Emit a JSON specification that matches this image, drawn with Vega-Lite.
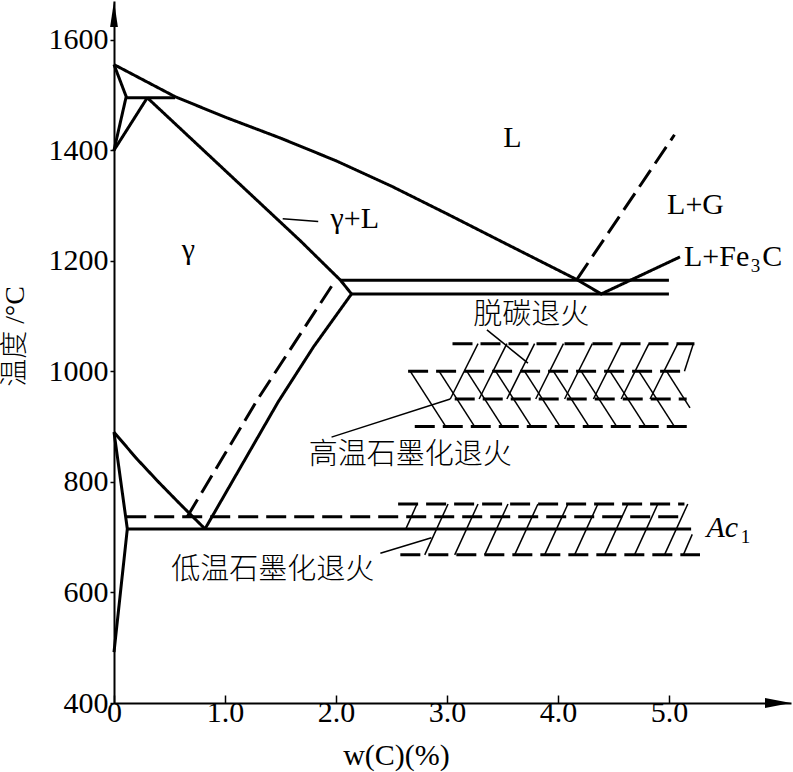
{
  "$schema": "https://vega.github.io/schema/vega-lite/v6.json",
  "width": 677,
  "height": 702,
  "autosize": {"type": "none"},
  "padding": {"left": 114, "top": 1, "right": 2, "bottom": 69},
  "background": "white",
  "config": {"view": {"stroke": null}},
  "datasets": {
    "lines": [
      {"id": "liq", "o": 1, "x": 0, "y": 1555, "d": "s"},
      {"id": "liq", "o": 2, "x": 0.55, "y": 1497, "d": "s"},
      {"id": "liq", "o": 3, "x": 1.0, "y": 1460, "d": "s"},
      {"id": "liq", "o": 4, "x": 1.5, "y": 1422, "d": "s"},
      {"id": "liq", "o": 5, "x": 2.0, "y": 1381, "d": "s"},
      {"id": "liq", "o": 6, "x": 2.5, "y": 1335, "d": "s"},
      {"id": "liq", "o": 7, "x": 3.0, "y": 1285, "d": "s"},
      {"id": "liq", "o": 8, "x": 3.5, "y": 1234, "d": "s"},
      {"id": "liq", "o": 9, "x": 4.17, "y": 1166, "d": "s"},
      {"id": "liq", "o": 10, "x": 4.39, "y": 1140, "d": "s"},
      {"id": "liq", "o": 11, "x": 5.10, "y": 1207, "d": "s"},
      {"id": "AH", "o": 1, "x": 0, "y": 1555, "d": "s"},
      {"id": "AH", "o": 2, "x": 0.11, "y": 1497, "d": "s"},
      {"id": "AH", "o": 3, "x": 0, "y": 1400, "d": "s"},
      {"id": "JN", "o": 1, "x": 0.30, "y": 1495, "d": "s"},
      {"id": "JN", "o": 2, "x": 0, "y": 1400, "d": "s"},
      {"id": "peri", "o": 1, "x": 0.11, "y": 1495, "d": "s"},
      {"id": "peri", "o": 2, "x": 0.55, "y": 1495, "d": "s"},
      {"id": "sol", "o": 1, "x": 0.30, "y": 1495, "d": "s"},
      {"id": "sol", "o": 2, "x": 1.68, "y": 1236, "d": "s"},
      {"id": "sol", "o": 3, "x": 2.04, "y": 1165, "d": "s"},
      {"id": "sol", "o": 4, "x": 2.14, "y": 1140, "d": "s"},
      {"id": "sol", "o": 5, "x": 1.80, "y": 1045, "d": "s"},
      {"id": "sol", "o": 6, "x": 1.48, "y": 945, "d": "s"},
      {"id": "sol", "o": 7, "x": 1.15, "y": 830, "d": "s"},
      {"id": "sol", "o": 8, "x": 0.82, "y": 715, "d": "s"},
      {"id": "eut1", "o": 1, "x": 2.04, "y": 1165, "d": "s"},
      {"id": "eut1", "o": 2, "x": 5.0, "y": 1165, "d": "s"},
      {"id": "eut2", "o": 1, "x": 2.14, "y": 1140, "d": "s"},
      {"id": "eut2", "o": 2, "x": 5.0, "y": 1140, "d": "s"},
      {"id": "GS", "o": 1, "x": 0, "y": 890, "d": "s"},
      {"id": "GS", "o": 2, "x": 0.2, "y": 843, "d": "s"},
      {"id": "GS", "o": 3, "x": 0.4, "y": 800, "d": "s"},
      {"id": "GS", "o": 4, "x": 0.6, "y": 759, "d": "s"},
      {"id": "GS", "o": 5, "x": 0.82, "y": 715, "d": "s"},
      {"id": "GP", "o": 1, "x": 0, "y": 890, "d": "s"},
      {"id": "GP", "o": 2, "x": 0.12, "y": 715, "d": "s"},
      {"id": "GP", "o": 3, "x": 0, "y": 492, "d": "s"},
      {"id": "A1", "o": 1, "x": 0.12, "y": 715, "d": "s"},
      {"id": "A1", "o": 2, "x": 5.2, "y": 715, "d": "s"},
      {"id": "Acm", "o": 1, "x": 0.66, "y": 737, "d": "d"},
      {"id": "Acm", "o": 2, "x": 1.29, "y": 948, "d": "d"},
      {"id": "Acm", "o": 3, "x": 1.98, "y": 1160, "d": "d"},
      {"id": "liqG", "o": 1, "x": 4.17, "y": 1166, "d": "d"},
      {"id": "liqG", "o": 2, "x": 5.05, "y": 1428, "d": "d"},
      {"id": "A1g", "o": 1, "x": 0.11, "y": 737, "d": "d"},
      {"id": "A1g", "o": 2, "x": 5.15, "y": 737, "d": "d"},
      {"id": "b1050", "o": 1, "x": 3.05, "y": 1050, "d": "d"},
      {"id": "b1050", "o": 2, "x": 5.23, "y": 1050, "d": "d"},
      {"id": "b1000", "o": 1, "x": 2.65, "y": 1000, "d": "d"},
      {"id": "b1000", "o": 2, "x": 5.16, "y": 1000, "d": "d"},
      {"id": "b950", "o": 1, "x": 3.07, "y": 950, "d": "d"},
      {"id": "b950", "o": 2, "x": 5.16, "y": 950, "d": "d"},
      {"id": "b900", "o": 1, "x": 2.71, "y": 900, "d": "d"},
      {"id": "b900", "o": 2, "x": 5.19, "y": 900, "d": "d"},
      {"id": "b760", "o": 1, "x": 2.56, "y": 760, "d": "d"},
      {"id": "b760", "o": 2, "x": 5.14, "y": 760, "d": "d"},
      {"id": "b668", "o": 1, "x": 2.58, "y": 668, "d": "d"},
      {"id": "b668", "o": 2, "x": 5.28, "y": 668, "d": "d"}
    ],
    "segs": [
      {"x": 1.52, "y": 1276, "x2": 1.84, "y2": 1271},
      {"x": 3.36, "y": 1075, "x2": 3.73, "y2": 1015},
      {"x": 1.96, "y": 881, "x2": 3.03, "y2": 950},
      {"x": 2.40, "y": 671, "x2": 2.86, "y2": 699},
      {"x": 3.03, "y": 950, "x2": 3.28, "y2": 1050},
      {"x": 3.29, "y": 950, "x2": 3.54, "y2": 1050},
      {"x": 3.54, "y": 950, "x2": 3.79, "y2": 1050},
      {"x": 3.80, "y": 950, "x2": 4.05, "y2": 1050},
      {"x": 4.06, "y": 950, "x2": 4.31, "y2": 1050},
      {"x": 4.32, "y": 950, "x2": 4.57, "y2": 1050},
      {"x": 4.57, "y": 950, "x2": 4.82, "y2": 1050},
      {"x": 4.83, "y": 950, "x2": 5.08, "y2": 1050},
      {"x": 5.14, "y": 1000, "x2": 5.22, "y2": 1050},
      {"x": 2.67, "y": 1000, "x2": 2.99, "y2": 900},
      {"x": 2.93, "y": 1000, "x2": 3.25, "y2": 900},
      {"x": 3.18, "y": 1000, "x2": 3.50, "y2": 900},
      {"x": 3.44, "y": 1000, "x2": 3.76, "y2": 900},
      {"x": 3.70, "y": 1000, "x2": 4.02, "y2": 900},
      {"x": 3.96, "y": 1000, "x2": 4.28, "y2": 900},
      {"x": 4.21, "y": 1000, "x2": 4.53, "y2": 900},
      {"x": 4.47, "y": 1000, "x2": 4.79, "y2": 900},
      {"x": 4.73, "y": 1000, "x2": 5.05, "y2": 900},
      {"x": 4.98, "y": 1000, "x2": 5.19, "y2": 934},
      {"x": 2.63, "y": 715, "x2": 2.73, "y2": 760},
      {"x": 2.80, "y": 668, "x2": 3.01, "y2": 760},
      {"x": 3.07, "y": 668, "x2": 3.28, "y2": 760},
      {"x": 3.34, "y": 668, "x2": 3.55, "y2": 760},
      {"x": 3.61, "y": 668, "x2": 3.82, "y2": 760},
      {"x": 3.88, "y": 668, "x2": 4.09, "y2": 760},
      {"x": 4.15, "y": 668, "x2": 4.36, "y2": 760},
      {"x": 4.42, "y": 668, "x2": 4.63, "y2": 760},
      {"x": 4.69, "y": 668, "x2": 4.90, "y2": 760},
      {"x": 4.96, "y": 668, "x2": 5.17, "y2": 760},
      {"x": 5.13, "y": 668, "x2": 5.21, "y2": 705}
    ],
    "labels": [
      {"k": "lat", "t": "L", "x": 3.59, "y": 1423},
      {"k": "lat", "t": "L+G", "x": 5.24, "y": 1301},
      {"k": "lat", "t": "γ", "x": 0.67, "y": 1220},
      {"k": "lat", "t": "γ+L", "x": 2.17, "y": 1276},
      {"k": "lat", "t": "L+Fe", "x": 5.43, "y": 1207},
      {"k": "lat", "t": "C", "x": 5.93, "y": 1207},
      {"k": "sub", "t": "3", "x": 5.78, "y": 1190},
      {"k": "sub", "t": "1", "x": 5.69, "y": 700},
      {"k": "ita", "t": "Ac", "x": 5.48, "y": 717},
      {"k": "cjk", "t": "脱碳退火", "x": 3.76, "y": 1102},
      {"k": "cjk", "t": "高温石墨化退火", "x": 2.67, "y": 849},
      {"k": "cjk", "t": "低温石墨化退火", "x": 1.43, "y": 641}
    ],
    "arrows": [
      {"s": "right", "x": 6.1, "y": 400},
      {"s": "up", "x": 0, "y": 1670}
    ]
  },
  "encoding": {
    "x": {
      "field": "x", "type": "quantitative",
      "scale": {"domain": [0, 6.1], "nice": false, "zero": false},
      "axis": {
        "values": [0, 1, 2, 3, 4, 5],
        "labelExpr": "datum.value == 0 ? '0' : format(datum.value, '.1f')",
        "grid": false, "domainColor": "black", "domainWidth": 2,
        "tickColor": "black", "tickWidth": 1.5, "tickSize": -8,
        "labelFont": "Liberation Serif, Times New Roman, serif", "labelFontSize": 30, "labelColor": "black",
        "labelPadding": 2, "labelFlush": false, "labelOverlap": false,
        "title": "w(C)(%)", "titleFont": "Liberation Serif, Times New Roman, serif", "titleFontSize": 30,
        "titleFontWeight": "normal", "titleColor": "black",
        "titleX": 282, "titleY": 52, "titleAlign": "center", "titleBaseline": "middle"
      }
    },
    "y": {
      "field": "y", "type": "quantitative",
      "scale": {"domain": [400, 1670], "nice": false, "zero": false},
      "axis": {
        "values": [400, 600, 800, 1000, 1200, 1400, 1600],
        "format": "d",
        "grid": false, "domainColor": "black", "domainWidth": 2,
        "tickColor": "black", "tickWidth": 1.5, "tickSize": 4,
        "labelFont": "Liberation Serif, Times New Roman, serif", "labelFontSize": 30, "labelColor": "black",
        "labelPadding": 2, "labelFlush": false, "labelOverlap": false,
        "title": "温度 /°C", "titleFont": "Liberation Serif, Noto Sans CJK SC", "titleFontSize": 28,
        "titleFontWeight": 300, "titleColor": "black", "titleAngle": -90,
        "titleX": -99, "titleY": 335, "titleAlign": "center", "titleBaseline": "middle"
      }
    }
  },
  "layer": [
    {
      "data": {"name": "lines"},
      "mark": {"type": "line", "color": "black", "strokeWidth": 3, "strokeJoin": "miter", "strokeCap": "butt"},
      "encoding": {
        "detail": {"field": "id"},
        "order": {"field": "o"},
        "strokeDash": {"field": "d", "type": "nominal", "scale": {"domain": ["s", "d"], "range": [[1, 0], [20, 8]]}, "legend": null}
      }
    },
    {
      "data": {"name": "segs"},
      "mark": {"type": "rule", "color": "black", "strokeWidth": 1.5},
      "encoding": {"x2": {"field": "x2"}, "y2": {"field": "y2"}}
    },
    {
      "data": {"name": "labels"},
      "transform": [{"filter": "datum.k == 'lat'"}],
      "mark": {"type": "text", "font": "Liberation Serif, Times New Roman, serif", "fontSize": 30, "color": "black", "align": "center", "baseline": "middle"},
      "encoding": {"text": {"field": "t"}}
    },
    {
      "data": {"name": "labels"},
      "transform": [{"filter": "datum.k == 'sub'"}],
      "mark": {"type": "text", "font": "Liberation Serif, Times New Roman, serif", "fontSize": 19, "color": "black", "align": "center", "baseline": "middle"},
      "encoding": {"text": {"field": "t"}}
    },
    {
      "data": {"name": "labels"},
      "transform": [{"filter": "datum.k == 'ita'"}],
      "mark": {"type": "text", "font": "Liberation Serif, Times New Roman, serif", "fontStyle": "italic", "fontSize": 30, "color": "black", "align": "center", "baseline": "middle"},
      "encoding": {"text": {"field": "t"}}
    },
    {
      "data": {"name": "labels"},
      "transform": [{"filter": "datum.k == 'cjk'"}],
      "mark": {"type": "text", "font": "Noto Sans CJK SC", "fontSize": 29, "fontWeight": 300, "color": "black", "align": "center", "baseline": "middle"},
      "encoding": {"text": {"field": "t"}}
    },
    {
      "data": {"name": "arrows"},
      "mark": {"type": "point", "filled": true, "color": "black", "opacity": 1, "size": 676},
      "encoding": {
        "shape": {"field": "s", "type": "nominal", "scale": {"domain": ["right", "up"], "range": ["M0,0L-2,-0.38L-2,0.38Z", "M0,0L-0.3,2L0.3,2Z"]}, "legend": null}
      }
    }
  ]
}
